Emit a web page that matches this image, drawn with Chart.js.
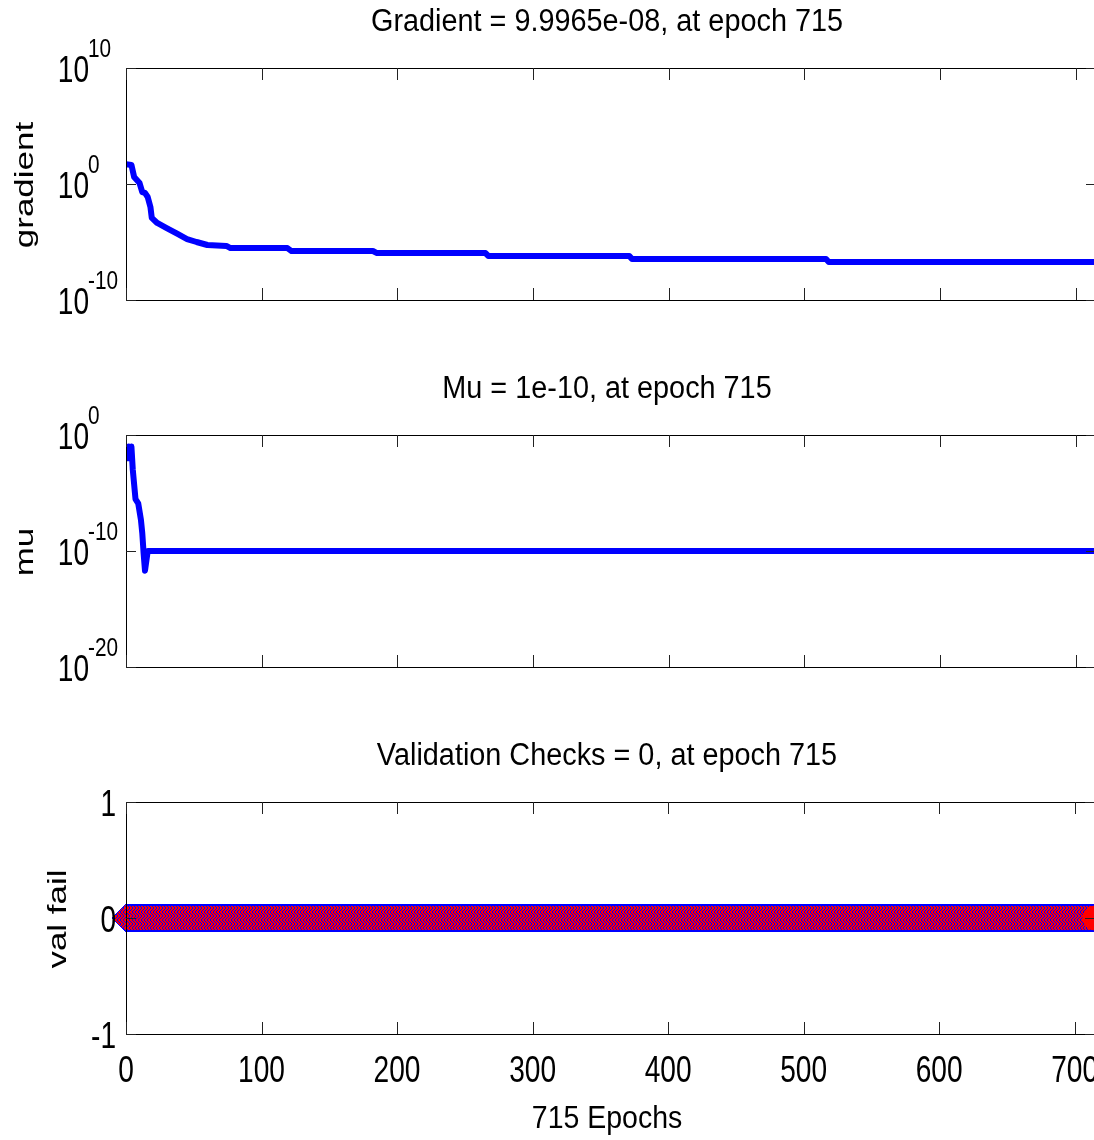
<!DOCTYPE html>
<html>
<head>
<meta charset="utf-8">
<script src="https://cdn.jsdelivr.net/npm/chart.js@4.4.0/dist/chart.umd.min.js"></script>
<style>
  html, body { margin: 0; padding: 0; background: #fff; overflow: hidden; }
  #wrap { position: relative; width: 1094px; height: 1140px; overflow: hidden; background: #fff; }
  #wrap canvas { position: absolute; left: 0; top: 0; }
</style>
</head>
<body>
<div id="wrap">
  <canvas id="gradChart" width="1110" height="1140"></canvas>
  <canvas id="muChart" width="1110" height="1140"></canvas>
  <canvas id="valChart" width="1110" height="1140"></canvas>
</div>
<script>
// x axis (epochs)
const epochTicks = [0, 100, 200, 300, 400, 500, 600, 700];
const lastEpoch = 715;

// gradient (log scale)
const gradEpochs = [0, 4, 6, 8, 10, 12, 14, 16, 18, 19, 23, 30, 38, 45, 52, 60, 74, 77, 119, 122, 182, 185, 265, 267, 371, 373, 516, 518, 715];
const gradValues = [52, 44, 4.0, 2.2, 1.2, 0.2, 0.17, 0.076, 0.0105, 1.2e-3, 4.4e-4, 1.6e-4, 4.9e-5, 1.8e-5, 1.0e-5, 5.5e-6, 4.6e-6, 3.0e-6, 3.0e-6, 1.66e-6, 1.66e-6, 1.1e-6, 1.1e-6, 6.3e-7, 6.3e-7, 3.4e-7, 3.4e-7, 1.9e-7, 1.9e-7];

// mu (log scale)
const muEpochs = [0, 1, 2, 3, 4, 5, 7, 9, 11, 12, 13, 14, 16, 715];
const muValues = [0.1, 0.01, 0.1, 0.01, 0.1, 1e-3, 3e-6, 1.3e-6, 5e-8, 3.5e-9, 6e-11, 2e-12, 1e-10, 1e-10];

// validation checks
const valEpochs = [0, 715];
const valFails = [0, 0];

// y tick labels: [value, base, exponent]
const gradTicks = [[1e10, '10', '10'], [1e0, '10', '0'], [1e-10, '10', '-10']];
const muTicks = [[1e0, '10', '0'], [1e-10, '10', '-10'], [1e-20, '10', '-20']];
const valTicks = [[1, '1'], [0, '0'], [-1, '-1']];

const titles = ['Gradient = 9.9965e-08, at epoch 715', 'Mu = 1e-10, at epoch 715', 'Validation Checks = 0, at epoch 715'];
const yLabels = ['gradient', 'mu', 'val fail'];
const xLabel = '715 Epochs';

const W = 1110, H = 1140;
const LEFT = 126, RIGHT = 1096;
const PLOT_H = 232;
const FONT = '"Liberation Sans", Arial, Helvetica, sans-serif';

function drawText(ctx, text, x, y, size, align, sx) {
  ctx.save();
  ctx.font = size + 'px ' + FONT;
  ctx.fillStyle = '#000';
  ctx.textBaseline = 'alphabetic';
  ctx.textAlign = align;
  ctx.translate(x, y);
  ctx.scale(sx, 1);
  ctx.fillText(text, 0, 0);
  ctx.restore();
}

function drawYLabel(ctx, text, x, y) {
  ctx.save();
  ctx.font = '35px ' + FONT;
  ctx.fillStyle = '#000';
  ctx.textBaseline = 'alphabetic';
  ctx.textAlign = 'center';
  ctx.translate(x, y);
  ctx.rotate(-Math.PI / 2);
  ctx.scale(1, 0.74);
  ctx.fillText(text, 0, 0);
  ctx.restore();
}

// MATLAB-like box, inward ticks and labels
const matlabAxes = {
  id: 'matlabAxes',
  afterDraw(chart, args, opts) {
    const ctx = chart.ctx;
    const a = chart.chartArea;
    const xs = chart.scales.x, ys = chart.scales.y;
    ctx.save();
    ctx.strokeStyle = '#000';
    ctx.lineWidth = 1;
    ctx.strokeRect(Math.round(a.left) + 0.5, Math.round(a.top) + 0.5, Math.round(a.right - a.left), Math.round(a.bottom - a.top));

    ctx.strokeStyle = '#222';
    ctx.beginPath();
    epochTicks.forEach(v => {
      const px = Math.round(xs.getPixelForValue(v)) + 0.5;
      ctx.moveTo(px, a.top); ctx.lineTo(px, a.top + 12);
      ctx.moveTo(px, a.bottom); ctx.lineTo(px, a.bottom - 12);
    });
    opts.yTicks.forEach(t => {
      const py = Math.round(ys.getPixelForValue(t[0])) + 0.5;
      ctx.moveTo(a.left, py); ctx.lineTo(a.left + 10, py);
      ctx.moveTo(a.right, py); ctx.lineTo(a.right - 10, py);
    });
    ctx.stroke();
    ctx.restore();

    // y tick labels
    opts.yTicks.forEach(t => {
      const py = ys.getPixelForValue(t[0]);
      if (t.length === 3) {
        drawText(ctx, t[1], 89, py + 14, 36, 'right', 0.78);
        drawText(ctx, t[2], 88, py - 11, 26, 'left', 0.8);
      } else {
        drawText(ctx, t[1], 116, py + 14, 36, 'right', 0.78);
      }
    });

    drawText(ctx, opts.title, 607, a.top - 37, 31, 'center', 0.93);
    drawYLabel(ctx, opts.yLabel, opts.yLabelX, (a.top + a.bottom) / 2 + 1);

    if (opts.xLabels) {
      epochTicks.forEach(v => {
        drawText(ctx, String(v), xs.getPixelForValue(v), a.bottom + 48, 36, 'center', 0.78);
      });
      drawText(ctx, xLabel, 607, a.bottom + 94, 32, 'center', 0.89);
    }
  }
};

function pts(xv, yv) {
  return xv.map((x, i) => ({ x: x, y: yv[i] }));
}

function baseOptions(top, yScale, axesOpts) {
  return {
    responsive: false,
    animation: false,
    events: [],
    layout: { padding: { left: LEFT, right: W - RIGHT, top: top, bottom: H - top - PLOT_H } },
    scales: {
      x: { type: 'linear', min: 0, max: lastEpoch, display: false },
      y: Object.assign({ display: false }, yScale)
    },
    plugins: {
      legend: { display: false },
      tooltip: { enabled: false },
      matlabAxes: axesOpts
    }
  };
}

new Chart(document.getElementById('gradChart'), {
  type: 'line',
  data: {
    datasets: [{
      data: pts(gradEpochs, gradValues),
      borderColor: '#0000ff',
      borderWidth: 6,
      borderJoinStyle: 'round',
      pointRadius: 0,
      tension: 0
    }]
  },
  options: baseOptions(68, { type: 'logarithmic', min: 1e-10, max: 1e10 },
    { title: titles[0], yLabel: yLabels[0], yLabelX: 33, yTicks: gradTicks }),
  plugins: [matlabAxes]
});

new Chart(document.getElementById('muChart'), {
  type: 'line',
  data: {
    datasets: [{
      data: pts(muEpochs, muValues),
      borderColor: '#0000ff',
      borderWidth: 6,
      borderJoinStyle: 'round',
      pointRadius: 0,
      tension: 0
    }]
  },
  options: baseOptions(435, { type: 'logarithmic', min: 1e-20, max: 1e0 },
    { title: titles[1], yLabel: yLabels[1], yLabelX: 33, yTicks: muTicks }),
  plugins: [matlabAxes]
});

// red/blue chevron hatch, like the overlapping markers
const valCanvas = document.getElementById('valChart');
function makeHatch(ctx) {
  const c = document.createElement('canvas');
  c.width = 3; c.height = 8;
  const g = c.getContext('2d');
  g.fillStyle = '#ff0000';
  g.fillRect(0, 0, 3, 8);
  g.fillStyle = '#0000ff';
  for (let y = 0; y < 8; y++) {
    const k = y < 4 ? y : 7 - y;
    g.fillRect(k % 3, y, 1, 1);
  }
  return ctx.createPattern(c, 'repeat');
}
const hatch = makeHatch(valCanvas.getContext('2d'));
const valPts = pts(valEpochs, valFails);

new Chart(valCanvas, {
  type: 'line',
  data: {
    datasets: [
      { data: [valPts[valPts.length - 1]], showLine: false, pointStyle: 'circle', pointRadius: 12,
        pointBackgroundColor: '#ff0000', pointBorderColor: '#ff0000', clip: false, order: 0 },
      { data: valPts, borderColor: hatch, borderWidth: 24, borderCapStyle: 'butt', pointRadius: 0, order: 1 },
      { data: [valPts[0]], showLine: false, pointStyle: 'rectRot', pointRadius: 14,
        pointBackgroundColor: hatch, pointBorderColor: '#0000ff', pointBorderWidth: 1, clip: false, order: 2 },
      { data: valPts, borderColor: '#0000ff', borderWidth: 28, borderCapStyle: 'butt', pointRadius: 0, order: 3 }
    ]
  },
  options: baseOptions(802, { type: 'linear', min: -1, max: 1 },
    { title: titles[2], yLabel: yLabels[2], yLabelX: 66, yTicks: valTicks, xLabels: true }),
  plugins: [matlabAxes]
});
</script>
</body>
</html>
